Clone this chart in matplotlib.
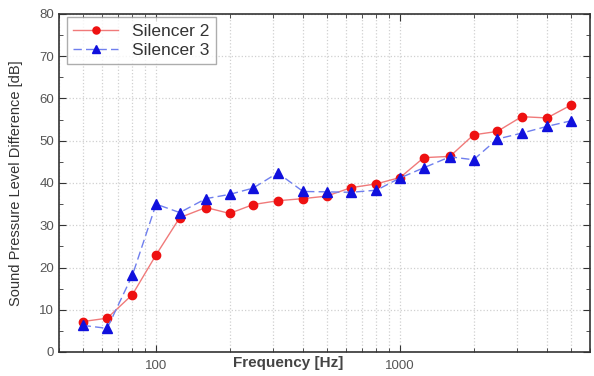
import matplotlib
matplotlib.use("Agg")
import matplotlib.pyplot as plt
from matplotlib.ticker import LogLocator, MultipleLocator, FixedLocator, NullFormatter

plt.rcParams["font.family"] = ["Liberation Sans", "DejaVu Sans"]

# third-octave band centre frequencies [Hz]
freq = [50, 63, 80, 100, 125, 160, 200, 250, 315, 400, 500, 630, 800,
        1000, 1250, 1600, 2000, 2500, 3150, 4000, 5000]

# sound pressure level difference [dB]
silencer_2 = [7.2, 8.0, 13.6, 23.0, 31.8, 34.2, 32.8, 34.9, 35.8, 36.3, 36.9,
              38.9, 39.8, 41.3, 46.0, 46.3, 51.4, 52.2, 55.7, 55.4, 58.4]
silencer_3 = [6.3, 5.6, 18.2, 35.0, 33.0, 36.3, 37.3, 38.8, 42.4, 38.0, 37.9,
              37.8, 38.3, 41.2, 43.6, 46.2, 45.5, 50.4, 51.8, 53.4, 54.7]

fig = plt.figure(figsize=(5.94, 3.76), dpi=100)
ax = fig.add_axes([59 / 594, 24 / 376, 531 / 594, 338 / 376])

ax.plot(freq, silencer_2, color="#f07a7a", linewidth=1.0, marker="o",
        markersize=6, markerfacecolor="#ee1111", markeredgecolor="#ee1111",
        label="Silencer 2", zorder=3)
ax.plot(freq, silencer_3, color="#6f7fee", linewidth=1.0, linestyle=(0, (6, 3)),
        marker="^", markersize=6.5, markerfacecolor="#1010dd",
        markeredgecolor="#1010dd", label="Silencer 3", zorder=3)

ax.set_xscale("log")
ax.set_xlim(40, 6000)
ax.set_ylim(0, 80)

ax.xaxis.set_major_locator(FixedLocator([100, 1000]))
ax.xaxis.set_major_formatter(matplotlib.ticker.FixedFormatter(["100", "1000"]))
ax.xaxis.set_minor_locator(LogLocator(base=10, subs=range(2, 10), numticks=20))
ax.xaxis.set_minor_formatter(NullFormatter())
ax.yaxis.set_major_locator(MultipleLocator(10))
ax.yaxis.set_minor_locator(MultipleLocator(5))

ax.grid(True, which="major", color="#d0d0d0", linestyle=":", linewidth=0.9)
ax.grid(True, which="minor", axis="x", color="#d0d0d0", linestyle=":", linewidth=0.9)
ax.set_axisbelow(True)

ax.tick_params(which="both", direction="in", top=True, right=True,
               colors="#333333", labelcolor="#555555", labelsize=9.5)
ax.tick_params(which="major", length=5)
ax.tick_params(which="minor", length=3)
ax.tick_params(axis="x", pad=6)
for s in ax.spines.values():
    s.set_color("#333333")
    s.set_linewidth(1.2)

ax.set_xlabel("Frequency [Hz]", fontsize=11, color="#444444", fontweight="bold")
ax.xaxis.set_label_coords(0.432, -0.013)
ax.set_ylabel("Sound Pressure Level Difference [dB]", fontsize=10.5, color="#333333")
ax.yaxis.set_label_coords(-0.068, 0.5)

leg = ax.legend(loc="upper left", bbox_to_anchor=(0.015, 0.99), borderaxespad=0,
                fontsize=12.5, frameon=True, fancybox=False, handlelength=2.6,
                labelcolor="#333333", borderpad=0.35, labelspacing=0.25,
                markerscale=0.85)
leg.get_frame().set_edgecolor("#999999")
leg.get_frame().set_linewidth(1.0)

fig.savefig("out.png", dpi=100)
